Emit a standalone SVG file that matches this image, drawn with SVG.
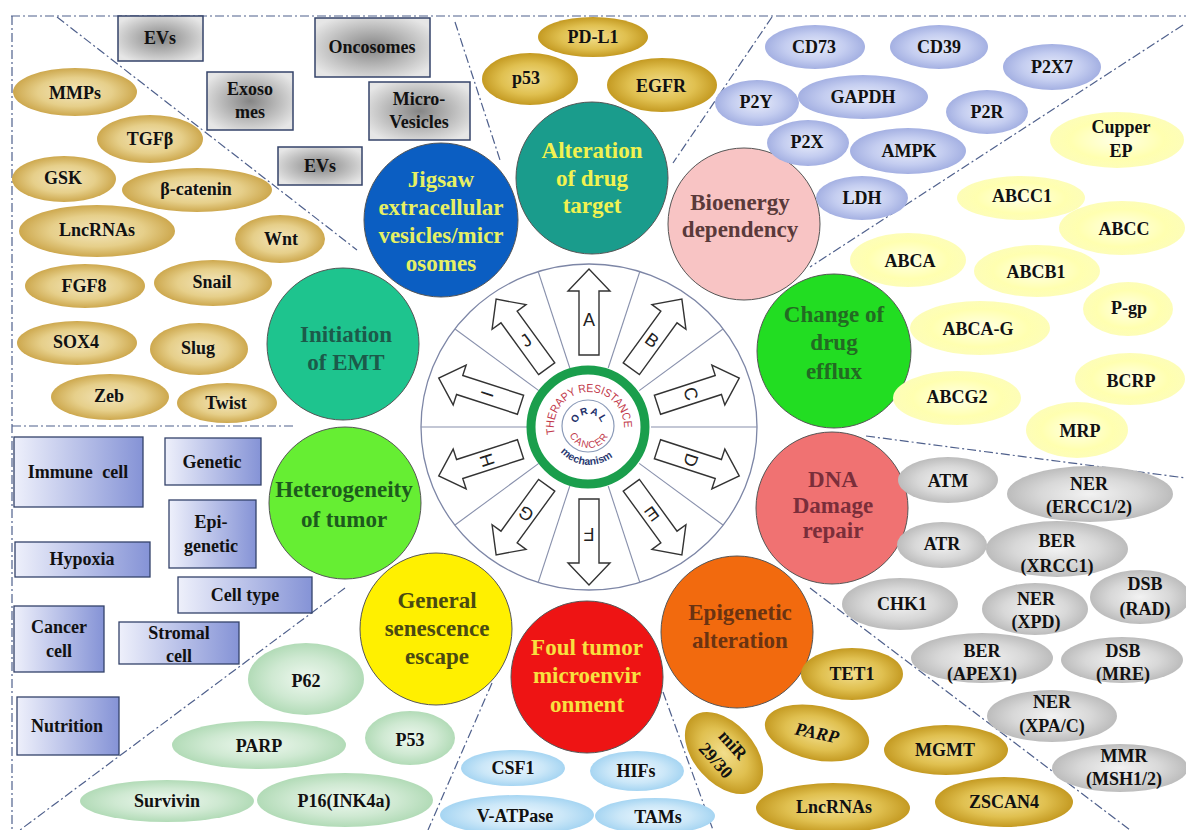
<svg xmlns="http://www.w3.org/2000/svg" width="1186" height="830" viewBox="0 0 1186 830">
<defs>
<radialGradient id="gbox" cx="50%" cy="50%" r="60%"><stop offset="0" stop-color="#858585"/><stop offset="1" stop-color="#e6e6e6"/></radialGradient>
<linearGradient id="hbox" x1="0" y1="0" x2="1" y2="0"><stop offset="0" stop-color="#eef0fb"/><stop offset="1" stop-color="#8593d6"/></linearGradient>
<radialGradient id="gold1"><stop offset="0" stop-color="#f3e6bd"/><stop offset="0.6" stop-color="#e6cf8a"/><stop offset="1" stop-color="#cda84e"/></radialGradient>
<radialGradient id="gold2"><stop offset="0" stop-color="#f2de8c"/><stop offset="0.6" stop-color="#e0c050"/><stop offset="1" stop-color="#c49a22"/></radialGradient>
<radialGradient id="blue"><stop offset="0" stop-color="#e8ecfa"/><stop offset="0.6" stop-color="#c4cdf0"/><stop offset="1" stop-color="#a4b0e2"/></radialGradient>
<radialGradient id="yel"><stop offset="0" stop-color="#ffffe6"/><stop offset="0.7" stop-color="#ffffb0"/><stop offset="1" stop-color="#fdfdb8"/></radialGradient>
<radialGradient id="gray"><stop offset="0" stop-color="#f2f2f2"/><stop offset="0.6" stop-color="#d8d8d8"/><stop offset="1" stop-color="#bcbcbc"/></radialGradient>
<radialGradient id="lgreen"><stop offset="0" stop-color="#eef8ef"/><stop offset="0.6" stop-color="#cfe9d2"/><stop offset="1" stop-color="#b2dbb7"/></radialGradient>
<radialGradient id="lblue"><stop offset="0" stop-color="#eef8ff"/><stop offset="0.6" stop-color="#cbe7f8"/><stop offset="1" stop-color="#a6d5f2"/></radialGradient>
<path id="pTR" d="M -34.24 7.28 A 35 35 0 1 1 34.66 4.87"/>
<path id="pOral" d="M -12.2 -4.4 A 13 13 0 0 1 12.2 -4.4"/>
<path id="pCancer" d="M -20.7 3.6 A 21 21 0 0 0 20.7 3.6"/>
<path id="pMech" d="M -34.4 16.0 A 38 38 0 0 0 31.1 21.8"/>
</defs>
<style>
.div{stroke:#4f608c;stroke-width:1.2;stroke-dasharray:9 3 2 3;fill:none}
.t{font-family:"Liberation Serif","Times New Roman",serif;font-weight:bold;font-size:18px;fill:#111;text-anchor:middle}
.c{font-family:"Liberation Serif","Times New Roman",serif;font-weight:bold;font-size:23px;text-anchor:middle}
.circ{stroke:#555;stroke-width:1}
.gb{fill:url(#gbox);stroke:#34436a;stroke-width:1.5}
.hb{fill:url(#hbox);stroke:#34436a;stroke-width:1.3}
.arrow{fill:#fff;stroke:#333;stroke-width:1.4;stroke-linejoin:miter}
.lt{font-family:"Liberation Sans",Arial,sans-serif;font-size:18px;fill:#222;text-anchor:middle}
.sect{stroke:#8890ac;stroke-width:1.1}
</style>
<rect width="1186" height="830" fill="#fff"/>

<g id="dividers">
<path class="div" d="M 11 16 H 1186"/>
<path class="div" d="M 12 16 V 830"/>
<path class="div" d="M 12 426 H 295"/>
<path class="div" d="M 57 17 L 357 250"/>
<path class="div" d="M 455 22 L 500 160"/>
<path class="div" d="M 772 17 L 673 163"/>
<path class="div" d="M 1183 25 L 810 267"/>
<path class="div" d="M 866 436 L 1186 478"/>
<path class="div" d="M 810 588 L 1130 830"/>
<path class="div" d="M 663 692 L 713 830"/>
<path class="div" d="M 492 683 L 428 830"/>
<path class="div" d="M 345 588 L 20 830"/>
</g>

<g id="wheel" transform="translate(589,427)">
<ellipse cx="0" cy="0" rx="168" ry="163" fill="#fff" stroke="#7d86a6" stroke-width="1.3"/>
<g class="sect">
<line x1="62" y1="0" x2="168" y2="0"/>
<line x1="50.2" y1="36.4" x2="134" y2="98"/>
<line x1="19.2" y1="59" x2="51" y2="156"/>
<line x1="-19.2" y1="59" x2="-51" y2="156"/>
<line x1="-50.2" y1="36.4" x2="-134" y2="98"/>
<line x1="-62" y1="0" x2="-168" y2="0"/>
<line x1="-50.2" y1="-36.4" x2="-134" y2="-98"/>
<line x1="-19.2" y1="-59" x2="-51" y2="-156"/>
<line x1="19.2" y1="-59" x2="51" y2="-156"/>
<line x1="50.2" y1="-36.4" x2="134" y2="-98"/>
</g>
<g id="arrowA" transform="rotate(0)"><polygon class="arrow" points="-10,-72 10,-72 10,-136 21,-136 0,-158 -21,-136 -10,-136"/><text class="lt" x="0" y="-101">A</text></g>
<g id="arrowB" transform="rotate(36)"><polygon class="arrow" points="-10,-72 10,-72 10,-136 21,-136 0,-158 -21,-136 -10,-136"/><text class="lt" x="0" y="-101">B</text></g>
<g id="arrowC" transform="rotate(72)"><polygon class="arrow" points="-10,-72 10,-72 10,-136 21,-136 0,-158 -21,-136 -10,-136"/><text class="lt" x="0" y="-101">C</text></g>
<g id="arrowD" transform="rotate(108)"><polygon class="arrow" points="-10,-72 10,-72 10,-136 21,-136 0,-158 -21,-136 -10,-136"/><text class="lt" x="0" y="-101">D</text></g>
<g id="arrowE" transform="rotate(144)"><polygon class="arrow" points="-10,-72 10,-72 10,-136 21,-136 0,-158 -21,-136 -10,-136"/><text class="lt" x="0" y="-101">E</text></g>
<g id="arrowF" transform="rotate(180)"><polygon class="arrow" points="-10,-72 10,-72 10,-136 21,-136 0,-158 -21,-136 -10,-136"/><text class="lt" x="0" y="-101">F</text></g>
<g id="arrowG" transform="rotate(216)"><polygon class="arrow" points="-10,-72 10,-72 10,-136 21,-136 0,-158 -21,-136 -10,-136"/><text class="lt" x="0" y="-101">G</text></g>
<g id="arrowH" transform="rotate(252)"><polygon class="arrow" points="-10,-72 10,-72 10,-136 21,-136 0,-158 -21,-136 -10,-136"/><text class="lt" x="0" y="-101">H</text></g>
<g id="arrowI" transform="rotate(288)"><polygon class="arrow" points="-10,-72 10,-72 10,-136 21,-136 0,-158 -21,-136 -10,-136"/><text class="lt" x="0" y="-101">I</text></g>
<g id="arrowJ" transform="rotate(324)"><polygon class="arrow" points="-10,-72 10,-72 10,-136 21,-136 0,-158 -21,-136 -10,-136"/><text class="lt" x="0" y="-101">J</text></g>
<circle cx="-1" cy="0" r="57" fill="#fff" stroke="#1a9e4c" stroke-width="9"/>
<circle cx="-1" cy="-1" r="26" fill="#fff" stroke="#8a9ab8" stroke-width="1.2"/>
<text font-family="Liberation Sans,Arial,sans-serif" font-size="11.5" fill="#c23a4c"><textPath href="#pTR" textLength="118" lengthAdjust="spacingAndGlyphs">THERAPY RESISTANCE</textPath></text>
<text font-family="Liberation Sans,Arial,sans-serif" font-size="10" font-weight="bold" fill="#22306a" text-anchor="middle" letter-spacing="1.5"><textPath href="#pOral" startOffset="50%">ORAL</textPath></text>
<text font-family="Liberation Sans,Arial,sans-serif" font-size="10" fill="#c23a4c" text-anchor="middle" letter-spacing="1.2"><textPath href="#pCancer" startOffset="50%">CANCER</textPath></text>
<text font-family="Liberation Sans,Arial,sans-serif" font-size="10.5" font-weight="bold" fill="#2a3a72" text-anchor="middle"><textPath href="#pMech" startOffset="50%">mechanism</textPath></text>
</g>

<g id="n-jigsaw"><circle class="circ" cx="441" cy="220" r="77" fill="#0b5ec2"/>
<text class="c" fill="#e6f064" font-size="24"><tspan x="441" y="187">Jigsaw</tspan><tspan x="441" y="215">extracellular</tspan><tspan x="441" y="243">vesicles/micr</tspan><tspan x="441" y="271">osomes</tspan></text></g>
<g id="n-target"><circle class="circ" cx="592" cy="178" r="76" fill="#1a9c8c"/>
<text class="c" fill="#f2f250"><tspan x="592" y="158">Alteration</tspan><tspan x="592" y="186">of drug</tspan><tspan x="592" y="213">target</tspan></text></g>
<g id="n-bioenergy"><circle class="circ" cx="744" cy="224" r="76" fill="#f8c4c4"/>
<text class="c" fill="#5a3a3a"><tspan x="740" y="210">Bioenergy</tspan><tspan x="740" y="237">dependency</tspan></text></g>
<g id="n-efflux"><circle class="circ" cx="834" cy="351" r="77" fill="#22dd22"/>
<text class="c" fill="#236a23"><tspan x="834" y="322">Change of</tspan><tspan x="834" y="350">drug</tspan><tspan x="834" y="379">efflux</tspan></text></g>
<g id="n-dna"><circle class="circ" cx="832" cy="508" r="76" fill="#f07272" stroke="#7a4a5a"/>
<text class="c" fill="#7a2e3a"><tspan x="833" y="487">DNA</tspan><tspan x="833" y="513">Damage</tspan><tspan x="833" y="538">repair</tspan></text></g>
<g id="n-epigenetic"><circle class="circ" cx="737" cy="632" r="76" fill="#f26a0e" stroke="#8a4a2a"/>
<text class="c" fill="#6a3312"><tspan x="740" y="620">Epigenetic</tspan><tspan x="740" y="648">alteration</tspan></text></g>
<g id="n-foul"><circle class="circ" cx="587" cy="677" r="76" fill="#ee1414"/>
<text class="c" fill="#f8e040"><tspan x="587" y="655">Foul tumor</tspan><tspan x="587" y="683">microenvir</tspan><tspan x="587" y="712">onment</tspan></text></g>
<g id="n-senescence"><circle class="circ" cx="436" cy="629" r="76" fill="#fff000"/>
<text class="c" fill="#4a4a12"><tspan x="437" y="608">General</tspan><tspan x="437" y="636">senescence</tspan><tspan x="437" y="664">escape</tspan></text></g>
<g id="n-heterogeneity"><circle class="circ" cx="345" cy="503" r="76" fill="#66ee33"/>
<text class="c" fill="#1d5a1d"><tspan x="344" y="497">Heterogeneity</tspan><tspan x="344" y="527">of tumor</tspan></text></g>
<g id="n-emt"><circle class="circ" cx="343" cy="344" r="76" fill="#1ec48e"/>
<text class="c" fill="#1c5a4a"><tspan x="346" y="342">Initiation</tspan><tspan x="346" y="370">of EMT</tspan></text></g>

<g id="ev-items">
<g id="s-ev1"><rect class="gb" x="118" y="16" width="85" height="45"/><text class="t" x="160" y="44">EVs</text></g>
<g id="s-onco"><rect class="gb" x="315" y="18" width="115" height="59"/><text class="t" x="372" y="53">Oncosomes</text></g>
<g id="s-exo"><rect class="gb" x="207" y="72" width="86" height="58"/><text class="t"><tspan x="250" y="95">Exoso</tspan><tspan x="250" y="118">mes</tspan></text></g>
<g id="s-micro"><rect class="gb" x="369" y="82" width="101" height="58"/><text class="t"><tspan x="419" y="105">Micro-</tspan><tspan x="419" y="128">Vesicles</tspan></text></g>
<g id="s-ev2"><rect class="gb" x="278" y="147" width="84" height="38"/><text class="t" x="320" y="172">EVs</text></g>
</g>

<g id="emt-items">
<g id="s-mmps"><ellipse cx="75" cy="92" rx="62" ry="24" fill="url(#gold1)"/><text class="t" x="75" y="99">MMPs</text></g>
<g id="s-tgfb"><ellipse cx="150" cy="139" rx="53" ry="24" fill="url(#gold1)"/><text class="t" x="150" y="145">TGFβ</text></g>
<g id="s-gsk"><ellipse cx="64" cy="179" rx="52" ry="23" fill="url(#gold1)"/><text class="t" x="63" y="184">GSK</text></g>
<g id="s-bcat"><ellipse cx="197" cy="190" rx="75" ry="22" fill="url(#gold1)"/><text class="t" x="196" y="195">β-catenin</text></g>
<g id="s-lnc1"><ellipse cx="97" cy="231" rx="78" ry="26" fill="url(#gold1)"/><text class="t" x="97" y="236">LncRNAs</text></g>
<g id="s-wnt"><ellipse cx="280" cy="239" rx="45" ry="24" fill="url(#gold1)"/><text class="t" x="281" y="245">Wnt</text></g>
<g id="s-fgf8"><ellipse cx="85" cy="286" rx="60" ry="22" fill="url(#gold1)"/><text class="t" x="84" y="292">FGF8</text></g>
<g id="s-snail"><ellipse cx="213" cy="283" rx="59" ry="23" fill="url(#gold1)"/><text class="t" x="212" y="288">Snail</text></g>
<g id="s-sox4"><ellipse cx="77" cy="343" rx="60" ry="22" fill="url(#gold1)"/><text class="t" x="76" y="348">SOX4</text></g>
<g id="s-slug"><ellipse cx="199" cy="349" rx="49" ry="26" fill="url(#gold1)"/><text class="t" x="198" y="354">Slug</text></g>
<g id="s-zeb"><ellipse cx="110" cy="397" rx="59" ry="23" fill="url(#gold1)"/><text class="t" x="109" y="402">Zeb</text></g>
<g id="s-twist"><ellipse cx="227" cy="403" rx="50" ry="20" fill="url(#gold1)"/><text class="t" x="226" y="409">Twist</text></g>
</g>

<g id="target-items">
<g id="s-pdl1"><ellipse cx="593" cy="37" rx="55" ry="20" fill="url(#gold2)"/><text class="t" x="593" y="43">PD-L1</text></g>
<g id="s-p53a"><ellipse cx="530" cy="79" rx="48" ry="26" fill="url(#gold2)"/><text class="t" x="526" y="84">p53</text></g>
<g id="s-egfr"><ellipse cx="662" cy="85" rx="55" ry="27" fill="url(#gold2)"/><text class="t" x="661" y="92">EGFR</text></g>
</g>

<g id="bio-items">
<g id="s-cd73"><ellipse cx="815" cy="47" rx="50" ry="22" fill="url(#blue)"/><text class="t" x="814" y="53">CD73</text></g>
<g id="s-cd39"><ellipse cx="939" cy="47" rx="49" ry="22" fill="url(#blue)"/><text class="t" x="939" y="53">CD39</text></g>
<g id="s-p2x7"><ellipse cx="1052" cy="67" rx="49" ry="23" fill="url(#blue)"/><text class="t" x="1052" y="73">P2X7</text></g>
<g id="s-p2y"><ellipse cx="757" cy="103" rx="42" ry="23" fill="url(#blue)"/><text class="t" x="756" y="108">P2Y</text></g>
<g id="s-gapdh"><ellipse cx="863" cy="97" rx="65" ry="22" fill="url(#blue)"/><text class="t" x="863" y="103">GAPDH</text></g>
<g id="s-p2r"><ellipse cx="987" cy="112" rx="41" ry="22" fill="url(#blue)"/><text class="t" x="987" y="118">P2R</text></g>
<g id="s-p2x"><ellipse cx="808" cy="143" rx="41" ry="23" fill="url(#blue)"/><text class="t" x="807" y="148">P2X</text></g>
<g id="s-ampk"><ellipse cx="908" cy="151" rx="58" ry="23" fill="url(#blue)"/><text class="t" x="909" y="157">AMPK</text></g>
<g id="s-ldh"><ellipse cx="862" cy="198" rx="46" ry="22" fill="url(#blue)"/><text class="t" x="862" y="204">LDH</text></g>
</g>

<g id="efflux-items">
<g id="s-cupper"><ellipse cx="1117" cy="140" rx="67" ry="28" fill="url(#yel)"/><text class="t"><tspan x="1121" y="133">Cupper</tspan><tspan x="1121" y="157">EP</tspan></text></g>
<g id="s-abcc1"><ellipse cx="1021" cy="198" rx="64" ry="22" fill="url(#yel)"/><text class="t" x="1022" y="202">ABCC1</text></g>
<g id="s-abcc"><ellipse cx="1122" cy="228" rx="63" ry="27" fill="url(#yel)"/><text class="t" x="1124" y="235">ABCC</text></g>
<g id="s-abca"><ellipse cx="908" cy="260" rx="58" ry="27" fill="url(#yel)"/><text class="t" x="910" y="267">ABCA</text></g>
<g id="s-abcb1"><ellipse cx="1037" cy="271" rx="63" ry="26" fill="url(#yel)"/><text class="t" x="1036" y="278">ABCB1</text></g>
<g id="s-pgp"><ellipse cx="1128" cy="309" rx="45" ry="27" fill="url(#yel)"/><text class="t" x="1129" y="314">P-gp</text></g>
<g id="s-abcag"><ellipse cx="980" cy="328" rx="70" ry="27" fill="url(#yel)"/><text class="t" x="978" y="335">ABCA-G</text></g>
<g id="s-bcrp"><ellipse cx="1130" cy="379" rx="55" ry="26" fill="url(#yel)"/><text class="t" x="1131" y="387">BCRP</text></g>
<g id="s-abcg2"><ellipse cx="957" cy="398" rx="64" ry="27" fill="url(#yel)"/><text class="t" x="957" y="403">ABCG2</text></g>
<g id="s-mrp"><ellipse cx="1077" cy="430" rx="51" ry="28" fill="url(#yel)"/><text class="t" x="1080" y="437">MRP</text></g>
</g>

<g id="dna-items">
<g id="s-atm"><ellipse cx="948" cy="480" rx="50" ry="23" fill="url(#gray)"/><text class="t" x="948" y="487">ATM</text></g>
<g id="s-ercc"><ellipse cx="1090" cy="494" rx="83" ry="28" fill="url(#gray)"/><text class="t"><tspan x="1089" y="490">NER</tspan><tspan x="1089" y="513">(ERCC1/2)</tspan></text></g>
<g id="s-atr"><ellipse cx="942" cy="545" rx="45" ry="23" fill="url(#gray)"/><text class="t" x="942" y="550">ATR</text></g>
<g id="s-xrcc"><ellipse cx="1057" cy="549" rx="71" ry="28" fill="url(#gray)"/><text class="t"><tspan x="1057" y="547">BER</tspan><tspan x="1057" y="572">(XRCC1)</tspan></text></g>
<g id="s-chk1"><ellipse cx="900" cy="604" rx="58" ry="26" fill="url(#gray)"/><text class="t" x="902" y="610">CHK1</text></g>
<g id="s-xpd"><ellipse cx="1035" cy="609" rx="53" ry="26" fill="url(#gray)"/><text class="t"><tspan x="1036" y="605">NER</tspan><tspan x="1036" y="628">(XPD)</tspan></text></g>
<g id="s-rad"><ellipse cx="1140" cy="597" rx="50" ry="27" fill="url(#gray)"/><text class="t"><tspan x="1145" y="590">DSB</tspan><tspan x="1145" y="615">(RAD)</tspan></text></g>
<g id="s-apex"><ellipse cx="982" cy="658" rx="71" ry="25" fill="url(#gray)"/><text class="t"><tspan x="982" y="657">BER</tspan><tspan x="982" y="680">(APEX1)</tspan></text></g>
<g id="s-mre"><ellipse cx="1122" cy="660" rx="61" ry="23" fill="url(#gray)"/><text class="t"><tspan x="1123" y="657">DSB</tspan><tspan x="1123" y="680">(MRE)</tspan></text></g>
<g id="s-xpac"><ellipse cx="1052" cy="716" rx="65" ry="26" fill="url(#gray)"/><text class="t"><tspan x="1052" y="708">NER</tspan><tspan x="1052" y="732">(XPA/C)</tspan></text></g>
<g id="s-mmr"><ellipse cx="1120" cy="768" rx="68" ry="24" fill="url(#gray)"/><text class="t"><tspan x="1124" y="762">MMR</tspan><tspan x="1124" y="785">(MSH1/2)</tspan></text></g>
</g>

<g id="epi-items">
<g id="s-tet1"><ellipse cx="852" cy="674" rx="51" ry="26" fill="url(#gold2)"/><text class="t" x="852" y="680">TET1</text></g>
<g id="s-parp1" transform="rotate(12 817 733)"><ellipse cx="817" cy="733" rx="53" ry="27" fill="url(#gold2)"/><text class="t" x="817" y="739" font-style="italic">PARP</text></g>
<g id="s-mgmt"><ellipse cx="946" cy="750" rx="62" ry="25" fill="url(#gold2)"/><text class="t" x="945" y="756">MGMT</text></g>
<g id="s-lnc2"><ellipse cx="833" cy="808" rx="77" ry="25" fill="url(#gold2)"/><text class="t" x="834" y="813">LncRNAs</text></g>
<g id="s-zscan"><ellipse cx="1004" cy="802" rx="69" ry="25" fill="url(#gold2)"/><text class="t" x="1004" y="808">ZSCAN4</text></g>
<g id="s-mir" transform="rotate(48 724 753)"><ellipse cx="724" cy="753" rx="48" ry="30" fill="url(#gold2)"/><text class="t"><tspan x="724" y="747">miR</tspan><tspan x="724" y="770">29/30</tspan></text></g>
</g>

<g id="foul-items">
<g id="s-csf1"><ellipse cx="513" cy="768" rx="52" ry="18" fill="url(#lblue)"/><text class="t" x="513" y="774">CSF1</text></g>
<g id="s-hifs"><ellipse cx="637" cy="771" rx="47" ry="20" fill="url(#lblue)"/><text class="t" x="636" y="777">HIFs</text></g>
<g id="s-vatp"><ellipse cx="517" cy="815" rx="77" ry="20" fill="url(#lblue)"/><text class="t" x="515" y="822">V-ATPase</text></g>
<g id="s-tams"><ellipse cx="655" cy="816" rx="60" ry="18" fill="url(#lblue)"/><text class="t" x="658" y="823">TAMs</text></g>
</g>

<g id="sen-items">
<g id="s-p62"><ellipse cx="306" cy="679" rx="58" ry="36" fill="url(#lgreen)"/><text class="t" x="306" y="687">P62</text></g>
<g id="s-parp2"><ellipse cx="259" cy="745" rx="87" ry="24" fill="url(#lgreen)"/><text class="t" x="259" y="752">PARP</text></g>
<g id="s-p53b"><ellipse cx="410" cy="738" rx="45" ry="27" fill="url(#lgreen)"/><text class="t" x="410" y="746">P53</text></g>
<g id="s-surv"><ellipse cx="167" cy="801" rx="87" ry="21" fill="url(#lgreen)"/><text class="t" x="167" y="807">Survivin</text></g>
<g id="s-p16"><ellipse cx="345" cy="800" rx="88" ry="27" fill="url(#lgreen)"/><text class="t" x="344" y="807">P16(INK4a)</text></g>
</g>

<g id="het-items">
<g id="s-immune"><rect class="hb" x="14" y="437" width="129" height="70"/><text class="t" x="78" y="478" word-spacing="5">Immune cell</text></g>
<g id="s-genetic"><rect class="hb" x="165" y="438" width="96" height="47"/><text class="t" x="212" y="468">Genetic</text></g>
<g id="s-epig"><rect class="hb" x="169" y="500" width="87" height="68"/><text class="t"><tspan x="211" y="528">Epi-</tspan><tspan x="211" y="552">genetic</tspan></text></g>
<g id="s-hypoxia"><rect class="hb" x="15" y="542" width="135" height="35"/><text class="t" x="82" y="565">Hypoxia</text></g>
<g id="s-celltype"><rect class="hb" x="178" y="577" width="134" height="36"/><text class="t" x="245" y="601">Cell type</text></g>
<g id="s-cancer"><rect class="hb" x="14" y="606" width="90" height="66"/><text class="t"><tspan x="59" y="633">Cancer</tspan><tspan x="59" y="657">cell</tspan></text></g>
<g id="s-stromal"><rect class="hb" x="119" y="622" width="120" height="42"/><text class="t"><tspan x="179" y="639">Stromal</tspan><tspan x="179" y="662">cell</tspan></text></g>
<g id="s-nutrition"><rect class="hb" x="17" y="697" width="102" height="58"/><text class="t" x="67" y="732">Nutrition</text></g>
</g>
</svg>
